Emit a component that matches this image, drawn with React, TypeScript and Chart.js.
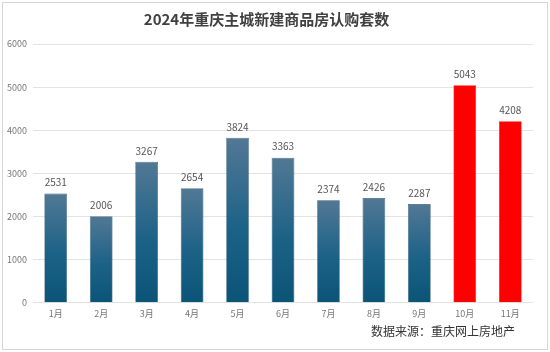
import React, { useEffect, useRef } from "react";
import { Chart, registerables } from "chart.js";

Chart.register(...registerables);

const titleText = "2024年重庆主城新建商品房认购套数";
const sourceText = "数据来源：重庆网上房地产";
const months = ["1月", "2月", "3月", "4月", "5月", "6月", "7月", "8月", "9月", "10月", "11月"];
const values = [2531, 2006, 3267, 2654, 3824, 3363, 2374, 2426, 2287, 5043, 4208];
const highlight = [false, false, false, false, false, false, false, false, false, true, true];

const FONT = "'Noto Sans CJK SC', 'Noto Sans', Arial, sans-serif";

const framePlugin = {
  id: "frame",
  beforeDraw(chart: any) {
    const ctx = chart.ctx;
    ctx.save();
    ctx.fillStyle = "#ffffff";
    ctx.fillRect(0, 0, chart.width, chart.height);
    ctx.strokeStyle = "#d6d6d6";
    ctx.lineWidth = 1;
    ctx.strokeRect(2.5, 2.5, chart.width - 5, chart.height - 5);
    ctx.restore();
  },
  afterDraw(chart: any) {
    const ctx = chart.ctx;
    ctx.save();
    ctx.font = `12px ${FONT}`;
    ctx.fillStyle = "#333333";
    ctx.textAlign = "right";
    ctx.textBaseline = "middle";
    ctx.fillText(sourceText, chart.chartArea.right - 18, 331);
    ctx.restore();
  },
};

const labelPlugin = {
  id: "valueLabels",
  afterDatasetsDraw(chart: any) {
    const ctx = chart.ctx;
    const meta = chart.getDatasetMeta(0);
    ctx.save();
    ctx.font = `10px ${FONT}`;
    ctx.fillStyle = "#555555";
    ctx.textAlign = "center";
    ctx.textBaseline = "middle";
    meta.data.forEach((bar: any, i: number) => {
      ctx.fillText(String(values[i]), bar.x, bar.y - 11);
    });
    ctx.restore();
  },
};

export default function App() {
  const ref = useRef<HTMLCanvasElement | null>(null);

  useEffect(() => {
    document.body.style.margin = "0";
    const canvas = ref.current;
    if (!canvas) return;
    const chart = new Chart(canvas, {
      type: "bar",
      data: {
        labels: months,
        datasets: [
          {
            data: values,
            backgroundColor: (c: any) => {
              const i = c.dataIndex;
              if (highlight[i]) return "#ff0000";
              const chartObj = c.chart;
              const y = chartObj.scales && chartObj.scales.y;
              if (!chartObj.chartArea || !y) return "#1e6088";
              const top = y.getPixelForValue(values[i]);
              const bottom = y.getPixelForValue(0);
              const g = chartObj.ctx.createLinearGradient(0, top, 0, bottom);
              g.addColorStop(0, "#527895");
              g.addColorStop(0.55, "#1c6287");
              g.addColorStop(1, "#0a5477");
              return g;
            },
            borderColor: (c: any) => (highlight[c.dataIndex] ? "#e80000" : "#2f5a78"),
            borderWidth: 0.6,
            categoryPercentage: 1,
            barPercentage: 0.5,
          },
        ],
      },
      options: {
        animation: false,
        responsive: false,
        devicePixelRatio: 1,
        layout: { padding: { left: 0, right: 17, top: 0, bottom: 28.5 } },
        plugins: {
          legend: { display: false },
          tooltip: { enabled: false },
          title: {
            display: true,
            text: titleText,
            color: "#404040",
            font: { family: FONT, size: 15, weight: "bold" },
            padding: { top: 10, bottom: 16 },
          },
        },
        scales: {
          x: {
            grid: { display: false, drawTicks: false },
            border: { display: false },
            ticks: {
              color: "#777777",
              font: { family: FONT, size: 9 },
              padding: 5,
              maxRotation: 0,
            },
          },
          y: {
            min: 0,
            max: 6000,
            afterFit: (s: any) => {
              s.width = 33;
            },
            grid: { color: "#e3e3e3", drawTicks: false, lineWidth: 1 },
            border: { display: false },
            ticks: {
              stepSize: 1000,
              color: "#777777",
              font: { family: FONT, size: 9 },
              padding: 6,
              callback: (v: any) => String(v),
            },
          },
        },
      },
      plugins: [framePlugin, labelPlugin],
    } as any);
    return () => chart.destroy();
  }, []);

  return (
    <div style={{ width: 550, height: 352 }}>
      <canvas ref={ref} width={550} height={352} style={{ display: "block" }} />
    </div>
  );
}
